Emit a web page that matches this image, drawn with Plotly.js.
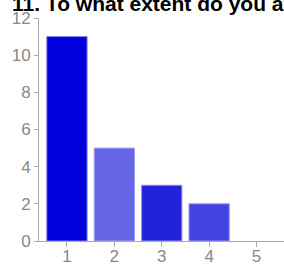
<!DOCTYPE html>
<html><head><meta charset="utf-8">
<script src="https://cdn.plot.ly/plotly-3.0.1.min.js"></script>
<style>html,body{margin:0;padding:0;background:#fff;overflow:hidden}</style>
</head><body><div id="chart" style="width:284px;height:264px"></div>
<script>
var categories = [1, 2, 3, 4, 5];
var counts = [11, 5, 3, 2, 0];
var tickLabels = ['1', '2', '3', '4', '5'];
var barColors = ['#0000DD', '#6666E6', '#2222DD', '#4444E4', '#0000DD'];
var edgeColors = ['#8080EE', '#A0A0F2', '#9090EE', '#9999F0', 'rgba(0,0,0,0)'];
var yTicks = [0, 2, 4, 6, 8, 10, 12];

Plotly.newPlot('chart', [{
  type: 'bar', x: categories, y: counts, width: 0.85,
  marker: {color: barColors, line: {color: edgeColors, width: 1}},
  hoverinfo: 'none'
}], {
  width: 284, height: 264,
  margin: {l: 39, r: 0, t: 18, b: 23, pad: 0},
  paper_bgcolor: '#fff', plot_bgcolor: '#fff',
  showlegend: false,
  title: {text: '<b>11. To what extent do you agree with the following statement?</b>',
    font: {family: 'Liberation Sans, Arial, sans-serif', size: 21, color: '#000'},
    x: 12/284, xref: 'container', xanchor: 'left', y: 0.985, yref: 'container', yanchor: 'middle'},
  xaxis: {range: [0.41, 5.58], tickvals: categories, ticktext: tickLabels,
    showgrid: false, zeroline: false, showline: true, linecolor: '#aaa', linewidth: 1,
    ticks: 'outside', ticklen: 5, tickcolor: '#aaa', ticklabelstandoff: -5,
    tickfont: {family: 'Liberation Sans, Arial, sans-serif', size: 17, color: '#888'}},
  yaxis: {range: [0, 12], tickvals: yTicks,
    showgrid: false, zeroline: false, showline: true, linecolor: '#aaa', linewidth: 1,
    ticks: 'outside', ticklen: 4, tickcolor: '#aaa',
    tickfont: {family: 'Liberation Sans, Arial, sans-serif', size: 17, color: '#888'}}
}, {staticPlot: true, displayModeBar: false});
</script></body></html>
